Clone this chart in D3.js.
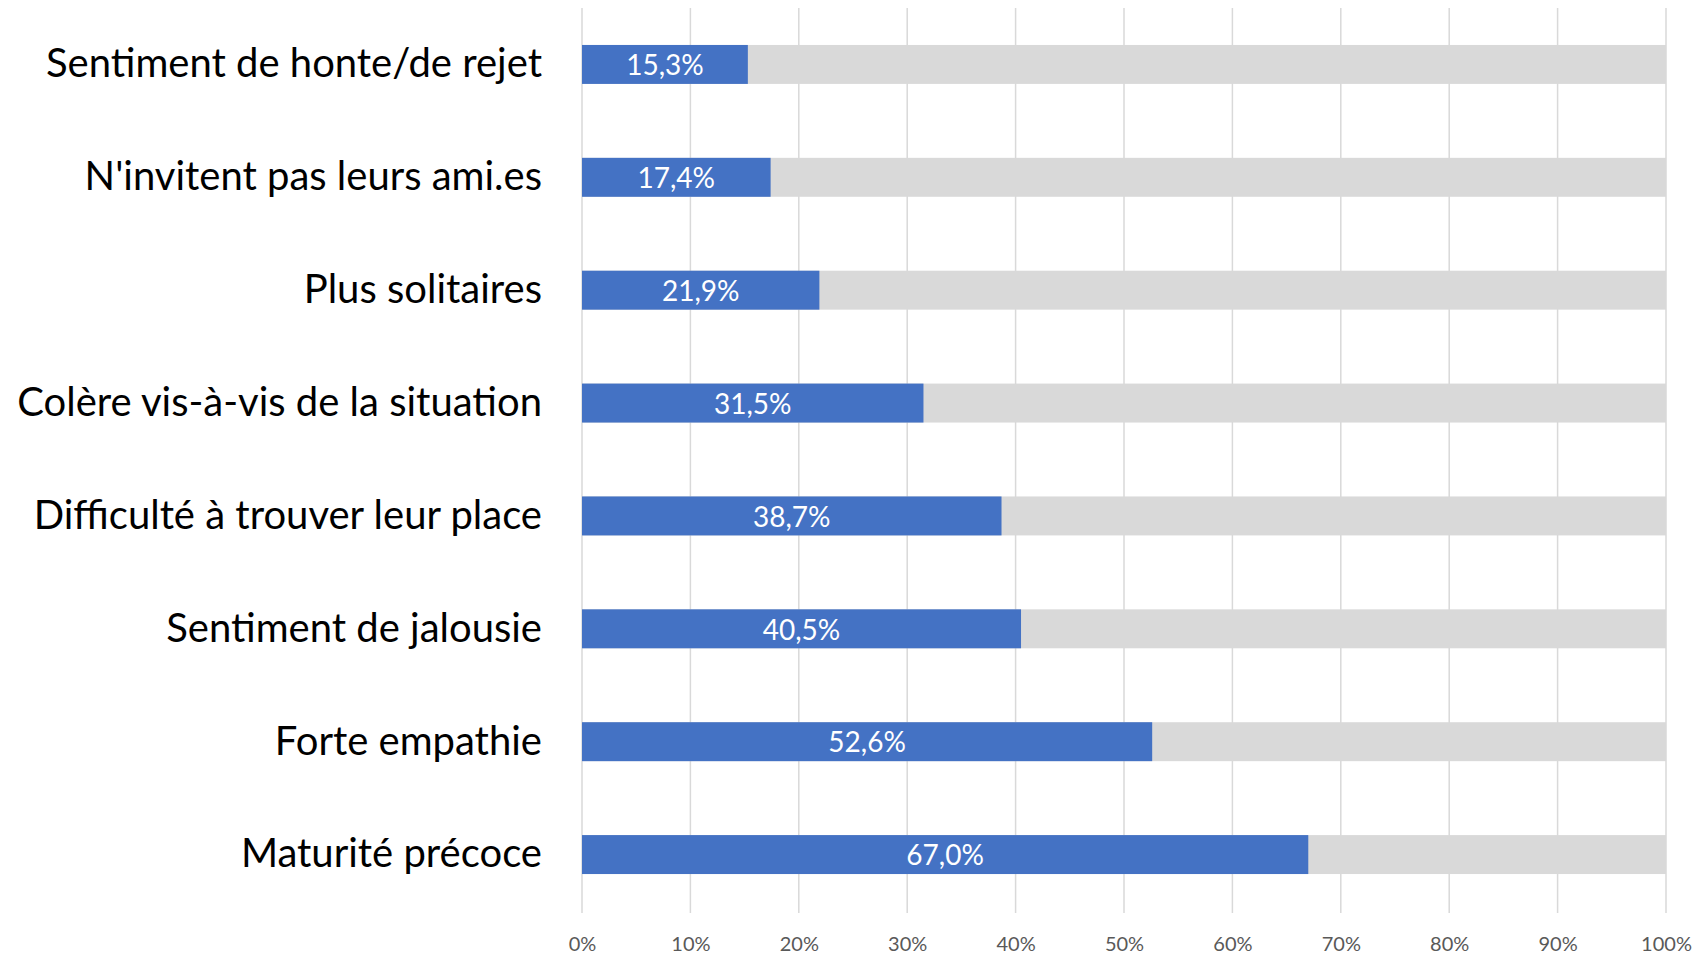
<!DOCTYPE html>
<html>
<head>
<meta charset="utf-8">
<script src="https://cdn.jsdelivr.net/npm/d3@7"></script>
<style>
  html, body { margin: 0; padding: 0; background: #fff; }
  svg { display: block; }
</style>
</head>
<body>
<svg id="chart" width="1702" height="956"></svg>
<script>
// Categories, top to bottom
const categories = [
  "Sentiment de honte/de rejet",
  "N'invitent pas leurs ami.es",
  "Plus solitaires",
  "Colère vis-à-vis de la situation",
  "Difficulté à trouver leur place",
  "Sentiment de jalousie",
  "Forte empathie",
  "Maturité précoce"
];
// Share of respondents (%)
const values = [15.3, 17.4, 21.9, 31.5, 38.7, 40.5, 52.6, 67.0];
// Full-scale background track (%)
const totals = [100, 100, 100, 100, 100, 100, 100, 100];
// Axis ticks (%)
const tickValues = [0, 10, 20, 30, 40, 50, 60, 70, 80, 90, 100];

const svg = d3.select("#chart");
const font = "Lato, 'Open Sans', sans-serif";

const x = d3.scaleLinear().domain([0, 100]).range([582, 1666]);
const y = d3.scaleBand().domain(categories).range([8, 911]).paddingInner(0.655).paddingOuter(0.3275);

// Vertical gridlines
svg.append("g")
  .selectAll("line")
  .data(tickValues)
  .join("line")
  .attr("x1", d => x(d)).attr("x2", d => x(d))
  .attr("y1", 8).attr("y2", 913)
  .attr("stroke", "#d9d9d9")
  .attr("stroke-width", 1.5);

// Background tracks
svg.append("g")
  .selectAll("rect")
  .data(categories)
  .join("rect")
  .attr("x", x(0))
  .attr("y", d => y(d))
  .attr("width", (d, i) => x(totals[i]) - x(0))
  .attr("height", y.bandwidth())
  .attr("fill", "#d9d9d9");

// Value bars
svg.append("g")
  .selectAll("rect")
  .data(categories)
  .join("rect")
  .attr("x", x(0))
  .attr("y", d => y(d))
  .attr("width", (d, i) => x(values[i]) - x(0))
  .attr("height", y.bandwidth())
  .attr("fill", "#4472c4");

// Value labels inside bars
const fmt = v => v.toFixed(1).replace(".", ",") + "%";
svg.append("g")
  .selectAll("text")
  .data(categories)
  .join("text")
  .attr("x", (d, i) => (x(0) + x(values[i])) / 2)
  .attr("y", d => y(d) + y.bandwidth() / 2 + 1)
  .attr("dy", "0.35em")
  .attr("text-anchor", "middle")
  .attr("fill", "#fff")
  .attr("font-family", font)
  .attr("font-size", 28)
  .text((d, i) => fmt(values[i]));

// Category axis (labels only)
const yAxis = svg.append("g")
  .attr("transform", `translate(${x(0) - 40},0)`)
  .call(d3.axisLeft(y).tickSize(0).tickPadding(0));
yAxis.select(".domain").remove();
yAxis.selectAll("text")
  .attr("font-family", font)
  .attr("font-size", 40)
  .attr("fill", "#000");

// Percentage axis
const xAxis = svg.append("g")
  .attr("transform", "translate(0,937)")
  .call(d3.axisBottom(x).tickValues(tickValues).tickSize(0).tickPadding(0).tickFormat(d => d + "%"));
xAxis.select(".domain").remove();
xAxis.selectAll("text")
  .attr("dy", "0.71em")
  .attr("font-family", font)
  .attr("font-size", 20)
  .attr("fill", "#595959");
</script>
</body>
</html>
